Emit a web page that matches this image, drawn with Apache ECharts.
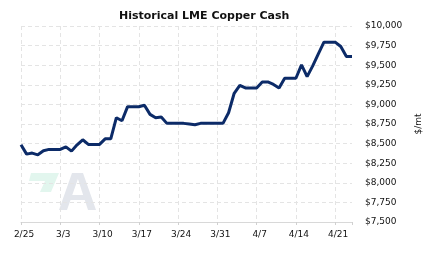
<!DOCTYPE html>
<html>
<head>
<meta charset="utf-8">
<script src="https://cdn.jsdelivr.net/npm/echarts@6/dist/echarts.min.js"></script>
<style>html,body{margin:0;padding:0;background:#fff}#chart{width:423px;height:257px}</style>
</head>
<body>
<div id="chart"></div>
<script>
// Daily LME copper cash prices ($/mt), 2024-02-25 .. 2024-04-24 (weekends carry Friday's value)
const startDate = '2024-02-25';
const prices = [
  8485, 8366, 8379, 8357, 8408, 8426, 8426,
  8426, 8459, 8404, 8485, 8549, 8490, 8490,
  8490, 8561, 8561, 8830, 8792, 8971, 8971,
  8971, 8989, 8873, 8830, 8839, 8758, 8758,
  8758, 8758, 8749, 8740, 8758, 8758, 8758,
  8758, 8758, 8894, 9142, 9244, 9210, 9210,
  9210, 9287, 9287, 9255, 9210, 9334, 9334,
  9334, 9504, 9354, 9491, 9645, 9794, 9794,
  9794, 9738, 9610, 9610
];
const tickLabels = ['2/25', '3/3', '3/10', '3/17', '3/24', '3/31', '4/7', '4/14', '4/21'];
const yTicks = [7500, 7750, 8000, 8250, 8500, 8750, 9000, 9250, 9500, 9750, 10000];

const chart = echarts.init(document.getElementById('chart'));
const seriesData = prices.map((v, i) => [i, v]);
const font = 'DejaVu Sans';

chart.setOption({
  animation: false,
  title: {
    text: 'Historical LME Copper Cash',
    left: 114, top: 6,
    textStyle: { fontFamily: font, fontSize: 11, fontWeight: 'bold', color: '#111' }
  },
  grid: { left: 21, right: 71, top: 26, bottom: 35, outerBoundsMode: 'none', containLabel: false },
  graphic: [
    { type: 'polygon', z: -1, shape: { points: [[31,173],[59,173],[51,192],[40,192],[45,181],[29,181]] }, style: { fill: '#e2f6ee' } },
    { type: 'polygon', z: -1, shape: { points: [[59,210],[72,173],[80,173],[67,210]] }, style: { fill: '#e3e6ec' } },
    { type: 'polygon', z: -1, shape: { points: [[76,173],[83,173],[96,210],[88,210]] }, style: { fill: '#e3e6ec' } },
    { type: 'rect', z: -1, shape: { x: 70, y: 195, width: 17, height: 5 }, style: { fill: '#e3e6ec' } }
  ],
  xAxis: {
    type: 'value',
    min: 0, max: prices.length - 1, interval: 7,
    axisLine: { show: true, lineStyle: { color: '#d8d8d8', width: 1 } },
    axisTick: { show: true, length: 3, lineStyle: { color: '#d0d0d0' } },
    axisLabel: {
      fontFamily: font, fontSize: 9, color: '#111', margin: 8, padding: [0, 0, 0, 6],
      formatter: v => (v % 7 === 0 && tickLabels[v / 7]) ? tickLabels[v / 7] : ''
    },
    splitLine: { show: true, showMaxLine: false, lineStyle: { color: '#e4e4e4', type: [4, 3] } }
  },
  yAxis: {
    type: 'value', position: 'right',
    min: yTicks[0], max: yTicks[yTicks.length - 1], interval: 250,
    name: '$/mt', nameLocation: 'middle', nameRotate: 90, nameGap: 62,
    nameTextStyle: { fontFamily: font, fontSize: 9, color: '#111' },
    axisLine: { show: false },
    axisTick: { show: false },
    axisLabel: {
      fontFamily: font, fontSize: 9, color: '#111', margin: 13,
      formatter: v => '$' + v.toLocaleString('en-US')
    },
    splitLine: { show: true, showMinLine: false, lineStyle: { color: '#e4e4e4', type: [4, 3] } }
  },
  series: [{
    type: 'line',
    data: seriesData,
    showSymbol: false,
    lineStyle: { color: '#0c2b68', width: 3 },
    itemStyle: { color: '#0c2b68' }
  }]
});
</script>
</body>
</html>
